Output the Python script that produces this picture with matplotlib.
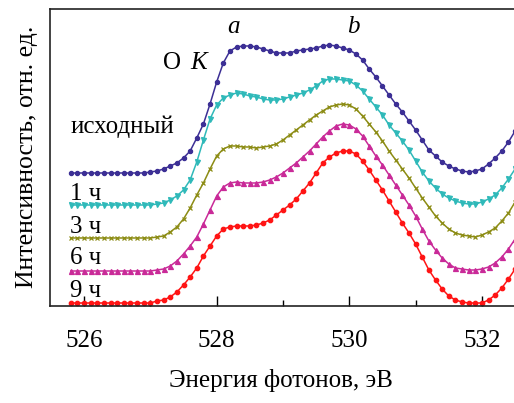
import numpy as np
import matplotlib
matplotlib.use('Agg')
import matplotlib.pyplot as plt
from matplotlib.ticker import MultipleLocator

plt.rcParams['font.family'] = ['Liberation Serif', 'DejaVu Serif']

# photon energy grid, eV (one point per 0.1 eV)
energy = np.round(np.arange(525.8, 532.55, 0.1), 1)

# O K-edge spectra, stacked, arb. units
flat = [133] * 12
initial = flat + [
    134, 135, 137, 140, 143, 148, 155, 168, 182, 202,
    224, 243, 255, 259, 260, 260, 259, 257, 255, 253,
    253, 253, 255, 256, 257, 258, 260, 261, 260, 258,
    256, 252, 246, 237, 229, 220, 211, 202, 194, 185,
    176, 166, 156, 150, 144, 140, 137, 135, 134, 135,
    137, 142, 148, 155, 164, 175]
flat = [101] * 12
hour1 = flat + [
    101, 102, 103, 106, 110, 116, 126, 144, 166, 187,
    201, 208, 211, 213, 212, 210, 209, 207, 206, 206,
    207, 209, 211, 213, 216, 220, 225, 227, 227, 226,
    225, 221, 215, 207, 199, 191, 181, 173, 165, 156,
    145, 134, 125, 118, 112, 108, 105, 103, 102, 102,
    104, 107, 111, 118, 127, 137]
flat = [68] * 12
hour3 = flat + [
    68, 69, 70, 74, 79, 87, 98, 111, 123, 137,
    150, 157, 160, 160, 159, 159, 158, 159, 160, 162,
    166, 171, 176, 181, 186, 191, 195, 199, 201, 202,
    201, 197, 190, 182, 174, 165, 155, 146, 137, 128,
    118, 108, 99, 90, 83, 77, 73, 71, 70, 69,
    71, 74, 78, 85, 93, 104]
flat = [35] * 12
hour6 = flat + [
    35, 36, 37, 40, 45, 52, 60, 69, 82, 96,
    110, 119, 123, 124, 123, 123, 123, 124, 126, 129,
    133, 138, 143, 149, 155, 162, 169, 175, 180, 182,
    181, 177, 170, 160, 150, 141, 131, 121, 111, 101,
    90, 77, 65, 56, 48, 42, 38, 37, 36, 36,
    37, 39, 43, 49, 57, 67]
flat = [3] * 12
hour9 = flat + [
    3, 5, 6, 9, 14, 21, 29, 38, 50, 60,
    70, 77, 79, 80, 80, 80, 81, 83, 86, 91,
    96, 101, 107, 115, 123, 133, 143, 149, 153, 155,
    155, 152, 145, 136, 126, 116, 105, 94, 83, 73,
    62, 49, 36, 26, 17, 10, 6, 4, 3, 3,
    3, 6, 11, 18, 27, 37]

labels = ['исходный', '1 ч', '3 ч', '6 ч', '9 ч']
label_y = [173, 106, 73, 42, 9]

series = [initial, hour1, hour3, hour6, hour9]
colors = ['#3c2f95', '#2fb9b9', '#8c8c14', '#c92a98', '#ff1414']
markers = ['o', 'v', 'x', '^', 'o']
msizes = [3.0, 3.6, 3.4, 3.6, 3.2]

fig = plt.figure(figsize=(5.14, 4.03), dpi=100)
ax = fig.add_axes([0.0973, 0.2407, 0.95, 0.7370])

for ys, c, m, ms in zip(series, colors, markers, msizes):
    ax.plot(energy, ys, color=c, lw=1.1, marker=m, markersize=ms,
            markeredgewidth=0.9)

ax.set_xlim(525.487, 532.85)
ax.set_ylim(0, 297)

for txt, y in zip(labels, label_y):
    ax.text(525.79, y, txt, fontsize=18, va='baseline', ha='left')

ax.text(527.19, 237, 'O', fontsize=18, va='baseline', ha='left')
ax.text(527.60, 237, 'K', fontsize=18, va='baseline', ha='left', style='italic')
ax.text(528.16, 273, 'a', fontsize=18, va='baseline', ha='left', style='italic')
ax.text(529.96, 273, 'b', fontsize=18, va='baseline', ha='left', style='italic')

ax.xaxis.set_major_locator(MultipleLocator(2))
ax.xaxis.set_minor_locator(MultipleLocator(1))
ax.tick_params(axis='x', which='major', direction='in', length=7, width=1.0,
               labelsize=18, pad=17, top=False)
ax.tick_params(axis='x', which='minor', direction='in', length=4.5, width=1.0,
               top=False)
ax.set_yticks([])
for s in ax.spines.values():
    s.set_linewidth(1.2)
    s.set_color('#222222')

fig.text(281 / 514, 1 - 387 / 403, 'Энергия фотонов, эВ', fontsize=18,
         ha='center', va='baseline')
fig.text(27 / 514, 1 - 157 / 403, 'Интенсивность, отн. ед.', fontsize=18.5,
         ha='center', va='center', rotation=90)

fig.savefig('out.png', dpi=100)
